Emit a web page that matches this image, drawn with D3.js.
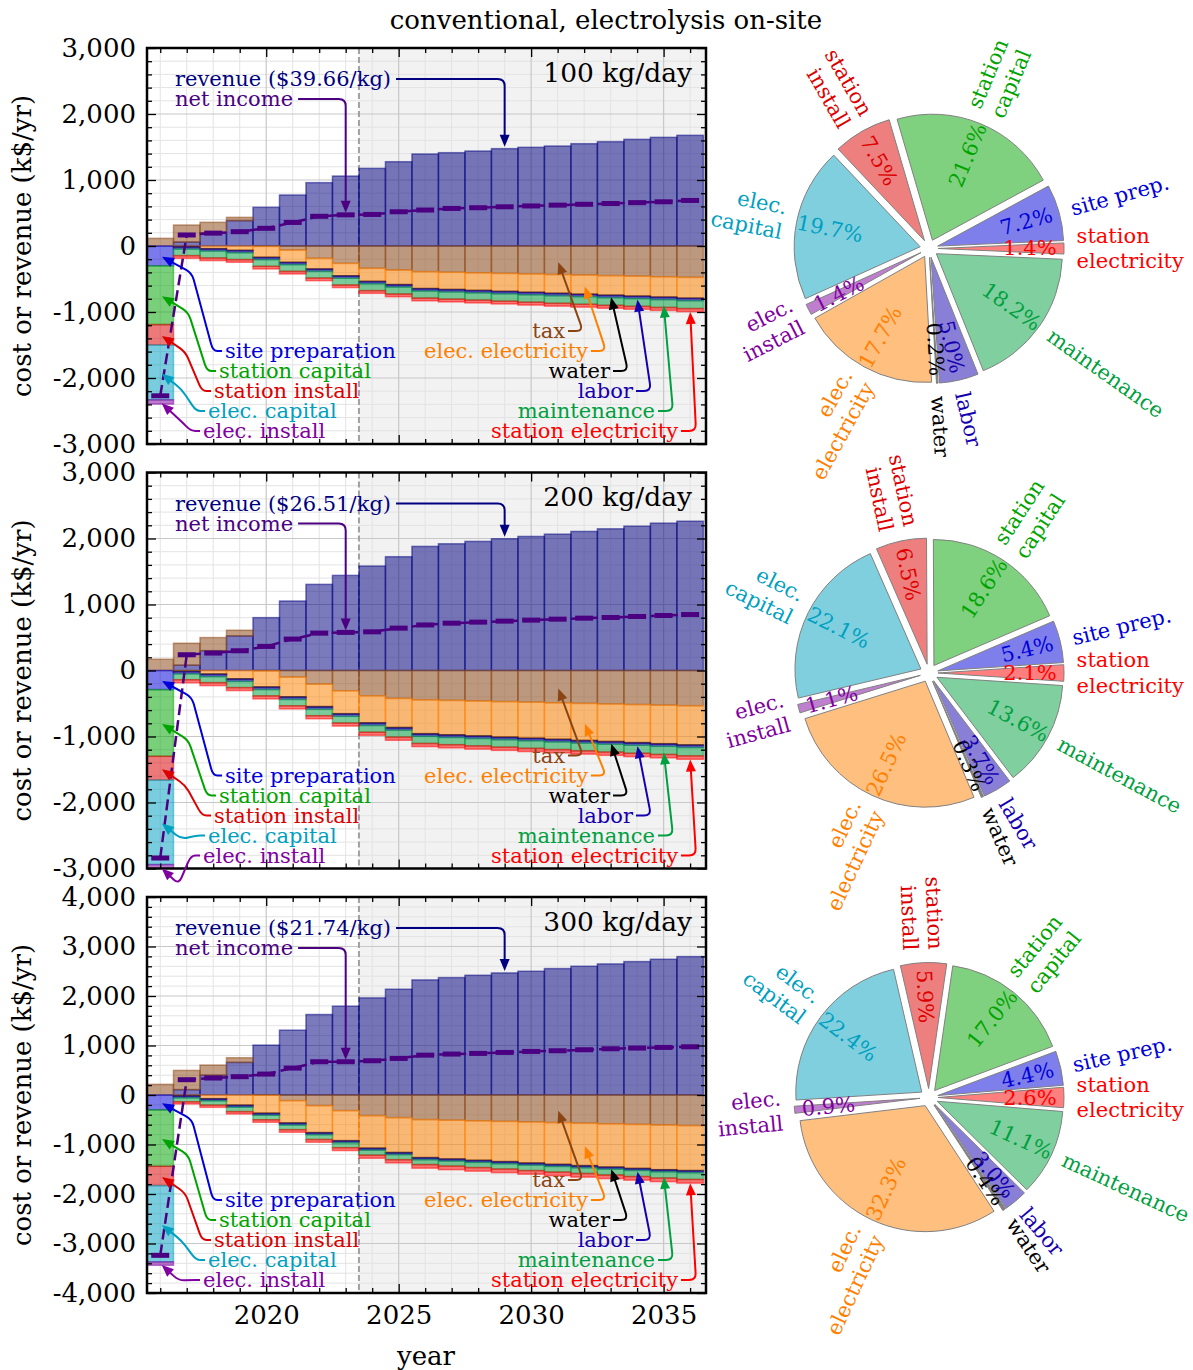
<!DOCTYPE html>
<html>
<head>
<meta charset="utf-8">
<script src="https://cdn.jsdelivr.net/npm/d3@7"></script>
<style>
  body { margin: 0; background: #fff; }
  svg { font-family: 'DejaVu Serif', serif; }
</style>
</head>
<body>
<svg id="chart" width="1193" height="1370"></svg>
<script>
// ---- data (k$/yr), one value per year ----
const years = [2016, 2017, 2018, 2019, 2020, 2021, 2022, 2023, 2024, 2025, 2026,
  2027, 2028, 2029, 2030, 2031, 2032, 2033, 2034, 2035, 2036]

// 100 kg/day
const revenue100 = [0, 60, 200, 384, 586, 773, 960, 1060, 1176, 1277, 1394, 1414, 1439, 1475, 1495, 1515, 1550, 1581, 1616, 1646, 1677]
const tax100 = [116, 258, 159, 50, -5, -61, -187, -263, -338, -364, -389, -398, -406, -415, -423, -432, -440, -449, -457, -466, -475]
const elecElec100 = [0, 10, 40, 65, 165, 185, 160, 188, 197, 220, 255, 260, 266, 271, 277, 283, 289, 295, 301, 307, 314]
const water100 = [0, 8, 8, 8, 8, 8, 8, 8, 8, 8, 8, 8, 8, 8, 8, 8, 8, 8, 8, 8, 8]
const labor100 = [0, 28, 28, 28, 28, 28, 28, 28, 28, 29, 29, 29, 29, 29, 30, 30, 30, 30, 30, 31, 31]
const maint100 = [0, 100, 105, 105, 102, 102, 102, 103, 105, 106, 108, 110, 111, 113, 114, 115, 116, 117, 118, 119, 120]
const stElec100 = [0, 40, 40, 40, 40, 40, 40, 40, 41, 41, 41, 42, 42, 42, 43, 43, 43, 44, 44, 45, 46]
const net100 = [-2270, 167, 195, 217, 268, 357, 450, 472, 478, 519, 545, 569, 580, 594, 607, 619, 632, 644, 657, 670, 690]
const capital100 = [300, 890, 310, 830, 65]
const pie100 = [1.4, 7.2, 21.6, 7.5, 19.7, 1.4, 17.7, 0.2, 5.0, 18.2]

// 200 kg/day
const revenue200 = [0, 80, 300, 524, 801, 1053, 1305, 1441, 1583, 1724, 1880, 1920, 1956, 1996, 2031, 2066, 2107, 2147, 2187, 2233, 2262]
const tax200 = [171, 333, 199, 86, -5, -100, -207, -307, -383, -423, -444, -453, -462, -471, -480, -489, -498, -507, -516, -525, -534]
const elecElec200 = [0, 10, 52, 125, 243, 298, 339, 347, 409, 440, 513, 521, 528, 537, 544, 552, 561, 568, 576, 584, 592]
const water200 = [0, 10, 10, 10, 10, 10, 10, 10, 10, 10, 10, 10, 10, 10, 10, 10, 10, 10, 10, 10, 10]
const labor200 = [0, 30, 30, 30, 30, 30, 30, 30, 30, 30, 30, 30, 30, 30, 30, 30, 30, 30, 30, 30, 30]
const maint200 = [0, 90, 92, 94, 96, 97, 99, 101, 103, 106, 108, 110, 112, 113, 115, 117, 118, 120, 122, 123, 127]
const stElec200 = [0, 45, 45, 45, 46, 46, 46, 47, 47, 48, 48, 48, 49, 49, 49, 50, 50, 50, 51, 51, 52]
const net200 = [-2840, 239, 264, 299, 365, 476, 566, 577, 586, 642, 690, 717, 733, 748, 763, 778, 793, 803, 818, 833, 848]
const capital200 = [290, 1010, 360, 1280, 80]
const pie200 = [2.1, 5.4, 18.6, 6.5, 22.1, 1.1, 26.5, 0.3, 3.7, 13.6]

// 300 kg/day
const revenue300 = [0, 108, 400, 659, 1008, 1310, 1626, 1794, 1962, 2137, 2325, 2372, 2419, 2466, 2500, 2554, 2601, 2648, 2695, 2742, 2796]
const tax300 = [215, 389, 205, 94, -5, -114, -215, -316, -417, -457, -497, -509, -521, -533, -545, -557, -569, -581, -594, -606, -618]
const elecElec300 = [0, 14, 74, 203, 361, 449, 544, 606, 655, 704, 767, 782, 797, 812, 828, 843, 858, 873, 888, 903, 908]
const water300 = [0, 12, 12, 12, 12, 12, 12, 12, 12, 12, 12, 12, 12, 12, 12, 12, 12, 12, 12, 12, 12]
const labor300 = [0, 30, 30, 30, 30, 30, 30, 30, 30, 30, 30, 30, 30, 30, 30, 30, 30, 30, 30, 30, 30]
const maint300 = [0, 80, 88, 90, 92, 95, 98, 100, 102, 104, 100, 103, 106, 109, 112, 115, 117, 120, 123, 126, 138]
const stElec300 = [0, 45, 45, 48, 51, 53, 55, 58, 61, 64, 72, 72, 72, 72, 72, 72, 73, 73, 73, 73, 74]
const net300 = [-3239, 309, 343, 370, 423, 544, 672, 672, 692, 739, 805, 827, 840, 860, 880, 894, 914, 934, 948, 961, 974]
const capital300 = [300, 1140, 390, 1540, 70]
const pie300 = [2.6, 4.4, 17.0, 5.9, 22.4, 0.9, 32.3, 0.4, 3.0, 11.1]

const capacities = ['100 kg/day', '200 kg/day', '300 kg/day']
const prices = ['$39.66/kg', '$26.51/kg', '$21.74/kg']
const yLimits = [3000, 3000, 4000]

// pie slices, counter-clockwise from the right
const pieKeys = ['stationElectricity', 'sitePrep', 'stationCapital', 'stationInstall', 'elecCapital',
  'elecInstall', 'elecElectricity', 'water', 'labor', 'maintenance']
const pieLabels = ['station\nelectricity', 'site prep.', 'station\ncapital', 'station\ninstall', 'elec.\ncapital',
  'elec.\ninstall', 'elec.\nelectricity', 'water', 'labor', 'maintenance']

const colors = {
  revenue: '#000080',
  netIncome: '#4b0082',
  tax: '#8b4513',
  sitePrep: '#0000d8',
  stationCapital: '#00a400',
  stationInstall: '#dd0000',
  elecCapital: '#00a0c0',
  elecInstall: '#8000a0',
  elecElectricity: '#ff8000',
  water: '#000000',
  labor: '#1500b0',
  maintenance: '#00a040',
  stationElectricity: '#ff0000'
}

const panels = [
  { revenue: revenue100, tax: tax100, elecElec: elecElec100, water: water100, labor: labor100, maint: maint100, stElec: stElec100, net: net100, capital: capital100, pie: pie100 },
  { revenue: revenue200, tax: tax200, elecElec: elecElec200, water: water200, labor: labor200, maint: maint200, stElec: stElec200, net: net200, capital: capital200, pie: pie200 },
  { revenue: revenue300, tax: tax300, elecElec: elecElec300, water: water300, labor: labor300, maint: maint300, stElec: stElec300, net: net300, capital: capital300, pie: pie300 }
]

// ---- layout ----
const plotLeft = 147
const plotRight = 706
const plotH = 396
const panelTops = [48, 472.5, 897]
const pieCx = 929
const pieR = 126
const explode = 9

const stackKeys = ['revenue', 'tax', 'sitePrep', 'stationCapital', 'stationInstall', 'elecCapital',
  'elecInstall', 'elecElectricity', 'water', 'labor', 'maintenance', 'stationElectricity']

const svg = d3.select('#chart')
const x = d3.scaleLinear().domain([2015.5, 2036.6]).range([plotLeft, plotRight])
const fmt = d => d3.format(',')(d).replace('\u2212', '-')

svg.append('text')
  .attr('x', 606).attr('y', 20)
  .attr('text-anchor', 'middle').attr('dominant-baseline', 'central')
  .attr('font-size', 26)
  .text('conventional, electrolysis on-site')

/**
 * Polyline with small rounded corners, as an SVG path string.
 */
function roundedLine (pts, r) {
  let d = `M${pts[0][0]},${pts[0][1]}`
  for (let i = 1; i < pts.length - 1; i++) {
    const [x0, y0] = pts[i - 1]
    const [x1, y1] = pts[i]
    const [x2, y2] = pts[i + 1]
    const l1 = Math.hypot(x1 - x0, y1 - y0)
    const l2 = Math.hypot(x2 - x1, y2 - y1)
    if (l1 === 0 || l2 === 0) continue
    const r1 = Math.min(r, l1 / 2)
    const r2 = Math.min(r, l2 / 2)
    d += `L${x1 - (x1 - x0) / l1 * r1},${y1 - (y1 - y0) / l1 * r1}` +
      `Q${x1},${y1} ${x1 + (x2 - x1) / l2 * r2},${y1 + (y2 - y1) / l2 * r2}`
  }
  const last = pts[pts.length - 1]
  return d + `L${last[0]},${last[1]}`
}

/**
 * Draws an annotation connector ending in a filled arrow head at the last point.
 */
function drawArrow (g, pts, color) {
  const n = pts.length
  const [tx, ty] = pts[n - 1]
  const [px, py] = pts[n - 2]
  const len = Math.hypot(tx - px, ty - py)
  const ux = (tx - px) / len
  const uy = (ty - py) / len
  const tipX = tx - ux * 2
  const tipY = ty - uy * 2
  const headL = 12
  const headW = 5
  const bx = tipX - ux * headL
  const by = tipY - uy * headL
  const linePts = pts.slice(0, n - 1).concat([[bx + ux * 2, by + uy * 2]])
  g.append('path')
    .attr('d', roundedLine(linePts, 7))
    .attr('fill', 'none')
    .attr('stroke', color)
    .attr('stroke-width', 2)
    .attr('stroke-linejoin', 'round')
  g.append('path')
    .attr('d', `M${tipX},${tipY}L${bx - uy * headW},${by + ux * headW}L${bx + uy * headW},${by - ux * headW}Z`)
    .attr('fill', color)
}

function styleAxis (sel, size) {
  sel.attr('font-family', null).attr('font-size', size)
  sel.select('.domain').remove()
  sel.selectAll('line').attr('stroke', '#000').attr('stroke-width', 1.3)
  sel.selectAll('text').attr('fill', '#000')
}

function drawPanel (p, idx) {
  const top = panelTops[idx]
  const bottom = top + plotH
  const yMax = yLimits[idx]
  const y = d3.scaleLinear().domain([-yMax, yMax]).range([bottom, top])
  const g = svg.append('g')

  const clipId = `clip${idx}`
  g.append('clipPath').attr('id', clipId)
    .append('rect').attr('x', plotLeft).attr('y', top)
    .attr('width', plotRight - plotLeft).attr('height', plotH)

  // future period shading
  g.append('rect')
    .attr('x', x(2023.5)).attr('y', top)
    .attr('width', plotRight - x(2023.5)).attr('height', plotH)
    .attr('fill', '#f2f2f2')

  // grid
  const yMajor = d3.range(-yMax, yMax + 1, 1000)
  const yMinor = d3.range(-yMax, yMax + 1, 200).filter(v => v % 1000 !== 0)
  const xMajor = [2020, 2025, 2030, 2035]
  const xMinor = years.filter(v => !xMajor.includes(v))
  const grid = g.append('g')
  grid.selectAll('.vmin').data(xMinor).join('line')
    .attr('x1', d => x(d)).attr('x2', d => x(d)).attr('y1', top).attr('y2', bottom)
    .attr('stroke', '#e3e3e3').attr('stroke-width', 1)
  grid.selectAll('.hmin').data(yMinor).join('line')
    .attr('y1', d => y(d)).attr('y2', d => y(d)).attr('x1', plotLeft).attr('x2', plotRight)
    .attr('stroke', '#e3e3e3').attr('stroke-width', 1)
  grid.selectAll('.vmaj').data(xMajor).join('line')
    .attr('x1', d => x(d)).attr('x2', d => x(d)).attr('y1', top).attr('y2', bottom)
    .attr('stroke', '#c8c8c8').attr('stroke-width', 1.2)
  grid.selectAll('.hmaj').data(yMajor).join('line')
    .attr('y1', d => y(d)).attr('y2', d => y(d)).attr('x1', plotLeft).attr('x2', plotRight)
    .attr('stroke', '#c8c8c8').attr('stroke-width', 1.2)

  g.append('line')
    .attr('x1', x(2023.5)).attr('x2', x(2023.5)).attr('y1', top).attr('y2', bottom)
    .attr('stroke', '#a0a0a0').attr('stroke-width', 2).attr('stroke-dasharray', '6,3')

  // stacked cash flows: income up, costs down
  const rows = years.map((yr, i) => ({
    year: yr,
    revenue: p.revenue[i],
    tax: p.tax[i],
    sitePrep: i === 0 ? -p.capital[0] : 0,
    stationCapital: i === 0 ? -p.capital[1] : 0,
    stationInstall: i === 0 ? -p.capital[2] : 0,
    elecCapital: i === 0 ? -p.capital[3] : 0,
    elecInstall: i === 0 ? -p.capital[4] : 0,
    elecElectricity: -p.elecElec[i],
    water: -p.water[i],
    labor: -p.labor[i],
    maintenance: -p.maint[i],
    stationElectricity: -p.stElec[i]
  }))
  const stacked = d3.stack().keys(stackKeys).offset(d3.stackOffsetDiverging)(rows)
  const layer = Object.fromEntries(stacked.map(s => [s.key, s]))
  const mid = (key, yr) => {
    const d = layer[key][years.indexOf(yr)]
    return (d[0] + d[1]) / 2
  }

  const plot = g.append('g').attr('clip-path', `url(#${clipId})`)
  plot.selectAll('g.layer').data(stacked).join('g')
    .attr('fill', s => colors[s.key])
    .attr('stroke', s => colors[s.key])
    .selectAll('rect').data(s => s.filter(d => d[1] !== d[0])).join('rect')
    .attr('x', d => x(d.data.year - 0.5))
    .attr('width', d => x(d.data.year + 0.5) - x(d.data.year - 0.5))
    .attr('y', d => y(Math.max(d[0], d[1])))
    .attr('height', d => Math.abs(y(d[0]) - y(d[1])))
    .attr('fill-opacity', 0.52)
    .attr('stroke-opacity', 0.5)
    .attr('stroke-width', 1.5)

  // net income
  const netData = years.map((yr, i) => ({ year: yr, v: p.net[i] }))
  plot.append('path')
    .datum(netData)
    .attr('d', d3.line().x(d => x(d.year)).y(d => y(d.v)))
    .attr('fill', 'none')
    .attr('stroke', colors.netIncome)
    .attr('stroke-width', 2.5)
    .attr('stroke-dasharray', '11,5')
  plot.selectAll('.netmark').data(netData).join('line')
    .attr('x1', d => x(d.year) - 9).attr('x2', d => x(d.year) + 9)
    .attr('y1', d => y(d.v)).attr('y2', d => y(d.v))
    .attr('stroke', colors.netIncome).attr('stroke-width', 5)

  // axes, ticks inside on all sides
  const axes = g.append('g')
  axes.append('g').attr('transform', `translate(${plotLeft},0)`)
    .call(d3.axisLeft(y).tickValues(yMajor).tickSize(-9).tickPadding(11).tickFormat(fmt))
    .call(s => styleAxis(s, 26))
  axes.append('g').attr('transform', `translate(${plotLeft},0)`)
    .call(d3.axisLeft(y).tickValues(yMinor).tickSize(-5).tickFormat(''))
    .call(s => styleAxis(s, 26))
  axes.append('g').attr('transform', `translate(${plotRight},0)`)
    .call(d3.axisRight(y).tickValues(yMajor).tickSize(-9).tickFormat(''))
    .call(s => styleAxis(s, 26))
  axes.append('g').attr('transform', `translate(${plotRight},0)`)
    .call(d3.axisRight(y).tickValues(yMinor).tickSize(-5).tickFormat(''))
    .call(s => styleAxis(s, 26))
  axes.append('g').attr('transform', `translate(0,${top})`)
    .call(d3.axisTop(x).tickValues(xMajor).tickSize(-9).tickFormat(''))
    .call(s => styleAxis(s, 26))
  axes.append('g').attr('transform', `translate(0,${top})`)
    .call(d3.axisTop(x).tickValues(xMinor).tickSize(-5).tickFormat(''))
    .call(s => styleAxis(s, 26))
  axes.append('g').attr('transform', `translate(0,${bottom})`)
    .call(d3.axisBottom(x).tickValues(xMajor).tickSize(-9).tickPadding(13)
      .tickFormat(idx === 2 ? d3.format('d') : ''))
    .call(s => styleAxis(s, 26))
  axes.append('g').attr('transform', `translate(0,${bottom})`)
    .call(d3.axisBottom(x).tickValues(xMinor).tickSize(-5).tickFormat(''))
    .call(s => styleAxis(s, 26))

  g.append('rect')
    .attr('x', plotLeft).attr('y', top)
    .attr('width', plotRight - plotLeft).attr('height', plotH)
    .attr('fill', 'none').attr('stroke', '#000').attr('stroke-width', 2.5)

  g.append('text')
    .attr('transform', `translate(22,${top + plotH / 2}) rotate(-90)`)
    .attr('text-anchor', 'middle').attr('dominant-baseline', 'central')
    .attr('font-size', 26)
    .text('cost or revenue (k$/yr)')

  g.append('text')
    .attr('x', plotRight - 14).attr('y', top + 24)
    .attr('text-anchor', 'end').attr('dominant-baseline', 'central')
    .attr('font-size', 26.5)
    .text(capacities[idx])

  // ---- annotations ----
  const ann = g.append('g').attr('font-size', 21)
  const label = (tx, ty, text, color, anchor) => ann.append('text')
    .attr('x', tx).attr('y', ty)
    .attr('text-anchor', anchor).attr('dominant-baseline', 'central')
    .attr('fill', color)
    .text(text)

  const revY = top + 31
  const revText = label(plotLeft + 28, revY, `revenue (${prices[idx]})`, colors.revenue, 'start')
  const revEnd = plotLeft + 28 + revText.node().getComputedTextLength()
  const revTip = [x(2029), y(layer.revenue[years.indexOf(2029)][1])]
  drawArrow(ann, [[revEnd + 5, revY], [revTip[0], revY], revTip], colors.revenue)

  const netY = top + 51
  const netText = label(plotLeft + 28, netY, 'net income', colors.netIncome, 'start')
  const netEnd = plotLeft + 28 + netText.node().getComputedTextLength()
  const netTip = [x(2023), y(p.net[years.indexOf(2023)])]
  drawArrow(ann, [[netEnd + 5, netY], [netTip[0], netY], netTip], colors.netIncome)

  const capAnno = [
    ['sitePrep', 'site preparation', 78, 303],
    ['stationCapital', 'station capital', 72, 323],
    ['stationInstall', 'station install', 67, 343],
    ['elecCapital', 'elec. capital', 61, 363],
    ['elecInstall', 'elec. install', 56, 383]
  ]
  capAnno.forEach(([key, text, dx, dy]) => {
    const sx = plotLeft + dx
    const cy = top + dy
    label(sx, cy, text, colors[key], 'start')
    const tip = [x(2016), y(mid(key, 2016))]
    const corner = [sx - 12, cy]
    const elbow = [tip[0] + 0.6 * (corner[0] - tip[0]), tip[1] + 17]
    drawArrow(ann, [[sx - 3, cy], corner, elbow, tip], colors[key])
  })

  const opAnno = [
    ['tax', 'tax', 2031, 418, 283],
    ['elecElectricity', 'elec. electricity', 2032, 441, 303],
    ['water', 'water', 2033, 463, 323],
    ['labor', 'labor', 2034, 486, 343],
    ['maintenance', 'maintenance', 2035, 508, 363],
    ['stationElectricity', 'station electricity', 2036, 531, 383]
  ]
  opAnno.forEach(([key, text, yr, dx, dy]) => {
    const ex = plotLeft + dx
    const cy = top + dy
    label(ex, cy, text, colors[key], 'end')
    const tip = [x(yr), y(mid(key, yr))]
    drawArrow(ann, [[ex + 3, cy], [ex + 18, cy], tip], colors[key])
  })

  drawPie(p.pie, top + plotH / 2 + 2.5)
}

function drawPie (pcts, cy) {
  const data = pieKeys.map((k, i) => ({ key: k, label: pieLabels[i], v: pcts[i] }))
  const start = Math.PI / 2 + Math.PI * pcts[0] / 100
  const arcs = d3.pie().sort(null).value(d => d.v)
    .startAngle(start).endAngle(start - 2 * Math.PI)(data)
  const arc = d3.arc().innerRadius(0).outerRadius(pieR)
  const g = svg.append('g')
  const fmtPct = d3.format('.1f')

  arcs.forEach(a => {
    const m = (a.startAngle + a.endAngle) / 2
    const ux = Math.sin(m)
    const uy = -Math.cos(m)
    const ox = pieCx + ux * explode
    const oy = cy + uy * explode
    g.append('path')
      .attr('transform', `translate(${ox},${oy})`)
      .attr('d', arc(a))
      .attr('fill', colors[a.data.key]).attr('fill-opacity', 0.5)
      .attr('stroke', '#808080').attr('stroke-width', 1)
  })

  arcs.forEach(a => {
    const m = (a.startAngle + a.endAngle) / 2
    const ux = Math.sin(m)
    const uy = -Math.cos(m)
    const ox = pieCx + ux * explode
    const oy = cy + uy * explode
    const theta = Math.atan2(-uy, ux) * 180 / Math.PI
    const rot = ux >= 0 ? theta : theta + 180
    const color = colors[a.data.key]

    g.append('text')
      .attr('transform', `translate(${ox + ux * pieR * 0.73},${oy + uy * pieR * 0.73}) rotate(${-rot})`)
      .attr('text-anchor', 'middle').attr('dominant-baseline', 'central')
      .attr('font-size', 21).attr('fill', color)
      .text(fmtPct(a.data.v) + '%')

    const lines = a.data.label.split('\n')
    const t = g.append('text')
      .attr('transform', `translate(${ox + ux * pieR * 1.1},${oy + uy * pieR * 1.1}) rotate(${-rot})`)
      .attr('text-anchor', ux >= 0 ? 'start' : 'end')
      .attr('dominant-baseline', 'central')
      .attr('font-size', 21).attr('fill', color)
    lines.forEach((ln, i) => {
      t.append('tspan')
        .attr('x', 0)
        .attr('y', (i - (lines.length - 1) / 2) * 1.2 * 21)
        .attr('dominant-baseline', 'central')
        .text(ln)
    })
  })
}

panels.forEach((p, i) => drawPanel(p, i))

svg.append('text')
  .attr('x', 426).attr('y', 1356)
  .attr('text-anchor', 'middle').attr('dominant-baseline', 'central')
  .attr('font-size', 26)
  .text('year')
</script>
</body>
</html>
